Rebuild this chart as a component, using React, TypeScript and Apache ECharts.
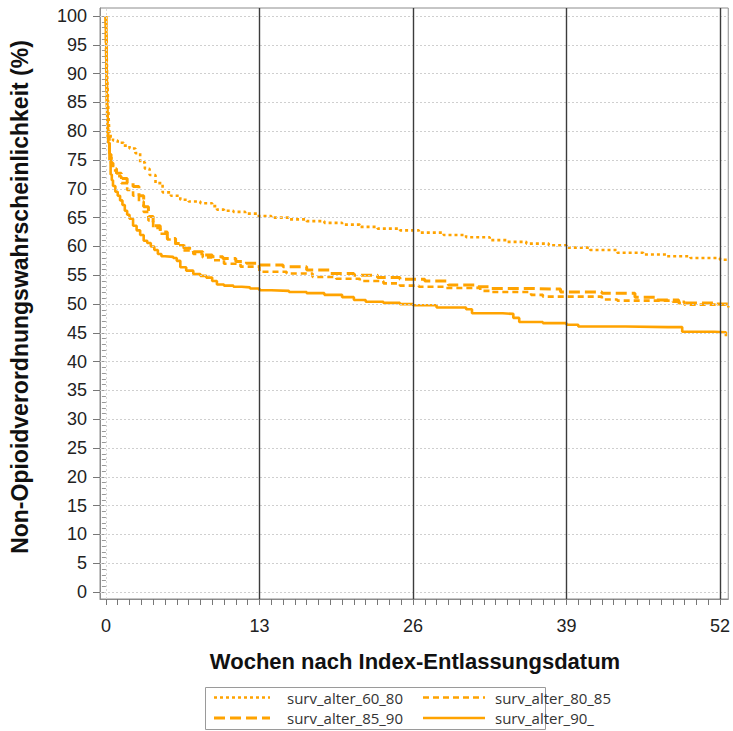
import React, { useEffect, useRef } from "react";
import * as echarts from "echarts";

// Kaplan-Meier style curves: weeks after index discharge vs. probability (%) of no opioid prescription
const weeks6080 = [0, 0.05, 0.1, 0.15, 0.2, 0.25, 0.3, 0.4, 0.6, 1.0, 1.5, 2.0, 2.5, 2.9, 3.3, 3.7, 4.2, 4.8, 5.5, 6.3, 7.0, 8.0, 9.0, 9.4, 10.0, 10.8, 11.8, 12.8, 14, 15.5, 17, 18.5, 20, 21.5, 23, 24.9, 26.5, 28.6, 30.5, 32.5, 34, 35.6, 37.5, 39, 41, 43.3, 45.5, 47.5, 49.5, 52, 52.7];
const surv6080 = [100, 95, 90, 87, 84, 81.5, 79.5, 78.8, 78.4, 78, 77.5, 77, 76.2, 74.6, 73.5, 72.4, 71, 69.4, 68.8, 68.1, 67.8, 67.5, 67, 66.4, 66.2, 66, 65.7, 65.3, 65, 64.7, 64.4, 64.1, 63.8, 63.4, 63.1, 62.8, 62.4, 62, 61.6, 61.1, 60.8, 60.5, 60.2, 59.8, 59.4, 58.9, 58.6, 58.3, 58.0, 57.7, 57.6];

const weeks8085 = [0, 0.05, 0.1, 0.15, 0.2, 0.3, 0.45, 0.6, 0.9, 1.3, 1.8, 2.3, 2.8, 3.2, 3.6, 4.0, 4.6, 5.2, 5.9, 6.6, 7.4, 8.2, 9.0, 10, 11.4, 13, 15.3, 17.5, 19.5, 21.5, 23.5, 24.9, 26.5, 28.7, 31.7, 32.5, 36, 37, 42, 43.3, 48, 49, 52.7];
const surv8085 = [100, 92, 86, 82, 79, 76, 74, 73.2, 72.2, 71, 69.8, 68.8, 67.8, 66, 64.5, 63.2, 62.2, 61.2, 60.2, 59.3, 58.7, 58.1, 57.6, 57.0, 56.5, 55.6, 55.3, 54.7, 54.4, 54, 53.6, 53.2, 53.0, 52.8, 52.3, 52.1, 51.6, 51.3, 50.8, 50.6, 50.4, 49.9, 49.4];

const weeks8590 = [0, 0.05, 0.1, 0.15, 0.2, 0.3, 0.45, 0.6, 0.9, 1.3, 1.8, 2.3, 2.8, 3.2, 3.6, 4.0, 4.6, 5.2, 5.9, 6.6, 7.4, 8.2, 9.0, 9.9, 11, 11.9, 13, 15, 17, 19, 21, 23, 24.9, 27, 29, 31.5, 32.5, 36, 38.5, 42, 44.8, 46.5, 48.5, 51.5, 52.7];
const surv8590 = [100, 90, 85, 81, 78, 76, 74.5, 73.5, 72.7, 71.8, 71, 70.4, 68.8, 66.9, 65.2, 63.6, 62.5, 61.4, 60.5, 59.7, 59.1, 58.5, 58.2, 57.9, 57.4, 57.1, 56.8, 56.5, 55.9, 55.3, 55.0, 54.6, 54.3, 54.0, 53.3, 53.0, 52.7, 52.6, 52.1, 51.9, 51.2, 50.7, 50.2, 50.0, 49.8];

const weeks90 = [0, 0.05, 0.1, 0.15, 0.2, 0.3, 0.4, 0.5, 0.6, 0.8, 1.0, 1.2, 1.4, 1.6, 1.8, 2.0, 2.3, 2.6, 2.9, 3.2, 3.5, 3.8, 4.1, 4.4, 4.7, 5.0, 5.7, 6.0, 6.3, 6.8, 7.4, 8.0, 8.5, 9.0, 9.4, 10.0, 10.8, 11.5, 12.2, 13.0, 14, 15.5, 17, 18.5, 20, 21, 22, 23.5, 24.9, 26, 28, 30.5, 31, 33.6, 34.5, 35, 37, 39, 40, 44, 47.6, 48.8, 51.5, 52.5];
const surv90 = [100, 90, 84, 80, 78, 75, 72.5, 71.5, 70.5, 69.5, 68.8, 68, 67.2, 66.2, 65.5, 64.8, 63.6, 62.8, 62, 61, 60.6, 60, 59.4, 58.7, 58.3, 58.2, 58.0, 57.5, 56.4, 55.8, 55.2, 54.9, 54.6, 54.0, 53.4, 53.2, 53.0, 52.9, 52.7, 52.4, 52.3, 52.1, 51.9, 51.6, 51.2, 50.7, 50.4, 50.2, 50.0, 49.8, 49.4, 49.1, 48.4, 48.3, 47.6, 46.9, 46.7, 46.4, 46.1, 46.0, 46.0, 45.2, 45.1, 44.4];

const seriesNames = ["surv_alter_60_80", "surv_alter_80_85", "surv_alter_85_90", "surv_alter_90_"];

// tick positions
const xLabelWeeks = [0, 13, 26, 39, 52];
const xTickWeeks = Array.from({ length: 53 }, (_, i) => i);
const yMajor = Array.from({ length: 21 }, (_, i) => i * 5);
const yMinor = Array.from({ length: 101 }, (_, i) => i);
const refWeeks = [13, 26, 39, 52];

const ORANGE = "#FFA300";
const dashStyles: (number[] | "solid")[] = [[3, 3], [6, 4], [11, 5], "solid"];
const widths = [2.6, 2.6, 3, 2.6];

const zip = (xs: number[], ys: number[]) => xs.map((x, i) => [x, ys[i]]);

export default function App() {
  const ref = useRef<HTMLDivElement>(null);

  useEffect(() => {
    if (!ref.current) return;
    const chart = echarts.init(ref.current, undefined, { renderer: "svg" });
    const datasets = [
      zip(weeks6080, surv6080),
      zip(weeks8085, surv8085),
      zip(weeks8590, surv8590),
      zip(weeks90, surv90),
    ];

    const legendRows = [
      { x1: 214, x2: 270, tx: 287, y: 697.5 },
      { x1: 423, x2: 485, tx: 495, y: 697.5 },
      { x1: 214, x2: 270, tx: 287, y: 718 },
      { x1: 423, x2: 485, tx: 495, y: 718 },
    ];

    const legendGraphics: any[] = [
      {
        type: "rect",
        shape: { x: 205.5, y: 687.5, width: 340, height: 42 },
        style: { fill: "#fff", stroke: "#9a9a9a", lineWidth: 1 },
      },
    ];
    legendRows.forEach((r, i) => {
      const d = dashStyles[i];
      legendGraphics.push({
        type: "line",
        shape: { x1: r.x1, y1: r.y, x2: r.x2, y2: r.y },
        style: {
          stroke: ORANGE,
          lineWidth: widths[i],
          lineDash: d === "solid" ? null : d,
        },
      });
      legendGraphics.push({
        type: "text",
        x: r.tx,
        y: r.y,
        style: {
          text: seriesNames[i],
          fontFamily: "Open Sans",
          fontSize: 15,
          fill: "#333",
          textVerticalAlign: "middle",
          verticalAlign: "middle",
        },
      });
    });

    const option: any = {
      animation: false,
      backgroundColor: "#fff",
      grid: {
        left: 100,
        right: 4,
        top: 8,
        bottom: 132,
        show: true,
        borderColor: "#8c8c8c",
        borderWidth: 1,
        backgroundColor: "transparent",
      },
      xAxis: {
        type: "value",
        min: -0.5,
        max: 52.7,
        axisLine: { show: true, onZero: false, lineStyle: { color: "#8c8c8c" } },
        axisTick: {
          show: true,
          customValues: xTickWeeks,
          length: 6,
          lineStyle: { color: "#777" },
        },
        axisLabel: {
          customValues: xLabelWeeks,
          fontSize: 18,
          fontFamily: "Liberation Sans",
          color: "#222",
          margin: 18,
        },
        splitLine: { show: false },
      },
      yAxis: [
        {
          type: "value",
          min: -1.2,
          max: 101.4,
          axisLine: { show: true, onZero: false, lineStyle: { color: "#8c8c8c" } },
          axisTick: {
            show: true,
            customValues: yMajor,
            length: 7,
            lineStyle: { color: "#777" },
          },
          axisLabel: {
            customValues: yMajor,
            fontSize: 18,
            fontFamily: "Liberation Sans",
            color: "#222",
            margin: 13,
          },
          splitLine: { show: false },
        },
        {
          type: "value",
          position: "left",
          min: -1.2,
          max: 101.4,
          axisLine: { show: false },
          axisTick: {
            show: true,
            customValues: yMinor,
            length: 4,
            lineStyle: { color: "#999" },
          },
          axisLabel: { show: false },
          splitLine: { show: false },
        },
      ],
      graphic: [
        {
          type: "text",
          x: 415,
          y: 661,
          style: {
            text: "Wochen nach Index-Entlassungsdatum",
            fontFamily: "Liberation Sans",
            fontWeight: "bold",
            fontSize: 22,
            fill: "#111",
            textAlign: "center",
            textVerticalAlign: "middle",
            align: "center",
            verticalAlign: "middle",
          },
        },
        {
          type: "text",
          x: 20,
          y: 297,
          rotation: Math.PI / 2,
          style: {
            text: "Non-Opioidverordnungswahrscheinlichkeit (%)",
            fontFamily: "Liberation Sans",
            fontWeight: "bold",
            fontSize: 23,
            fill: "#111",
            textAlign: "center",
            textVerticalAlign: "middle",
            align: "center",
            verticalAlign: "middle",
          },
        },
        ...legendGraphics,
      ],
      series: [
        {
          // reference grid: dotted horizontals and solid quarter-year verticals
          type: "line",
          data: [],
          z: 1,
          silent: true,
          markLine: {
            silent: true,
            symbol: "none",
            label: { show: false },
            animation: false,
            data: [
              ...yMajor.map((v) => ({
                yAxis: v,
                lineStyle: { color: "#cfcfcf", type: [2, 2], width: 1 },
              })),
              { xAxis: 0, lineStyle: { color: "#d8d8d8", type: [2, 2], width: 1 } },
              ...refWeeks.map((w) => ({
                xAxis: w,
                lineStyle: { color: "#3c3c3c", type: "solid", width: 1.4 },
              })),
            ],
          },
        },
        ...datasets.map((data, i) => ({
          name: seriesNames[i],
          type: "line",
          step: "end",
          data,
          z: 3,
          showSymbol: false,
          symbol: "none",
          lineStyle: {
            color: ORANGE,
            width: widths[i],
            type: dashStyles[i],
          },
        })),
      ],
    };

    chart.setOption(option);
    return () => chart.dispose();
  }, []);

  return (
    <div
      ref={ref}
      style={{ position: "fixed", left: 0, top: 0, width: 733, height: 731, overflow: "hidden" }}
    />
  );
}
